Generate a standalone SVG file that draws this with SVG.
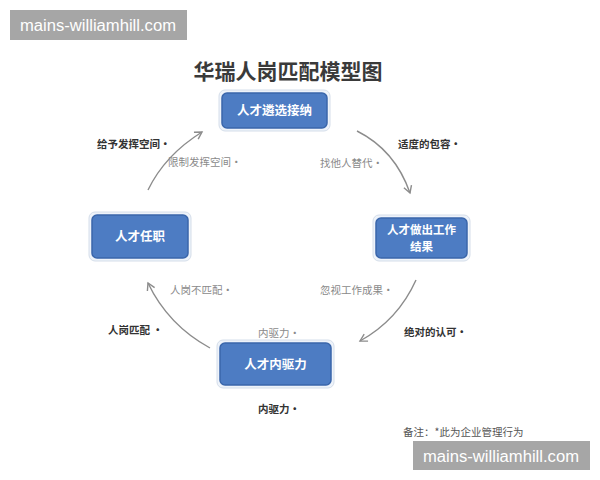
<svg xmlns="http://www.w3.org/2000/svg" width="600" height="480" viewBox="0 0 600 480">
<defs>
<style>
.node{fill:#4d7cc3;stroke:#3a66ab;stroke-width:1.5}
.halo{fill:#eef3fa;stroke:#d5deea;stroke-width:1}
.nt{font-family:"Noto Sans CJK SC",sans-serif;font-size:12.5px;fill:#ffffff;font-weight:bold;text-anchor:middle}
.lb{font-family:"Noto Sans CJK SC",sans-serif;font-size:10.5px;fill:#333333;font-weight:bold}
.lg{font-family:"Noto Sans CJK SC",sans-serif;font-size:10.5px;fill:#8a8a8a}
.wm{fill:#a6a6a6}
.wt{font-family:"Liberation Sans",sans-serif;font-size:16px;fill:#ffffff}
.arr{fill:none;stroke:#8c8c8c;stroke-width:1.4;marker-end:url(#ah)}
</style>
<marker id="ah" markerWidth="10" markerHeight="10" refX="8" refY="5" orient="auto" markerUnits="userSpaceOnUse">
<path d="M1,1 L8,5 L1,9" fill="none" stroke="#8c8c8c" stroke-width="1.4"/>
</marker>
</defs>
<rect width="600" height="480" fill="#ffffff"/>
<rect x="10" y="10" width="177" height="30" class="wm"/>
<text x="20" y="31" class="wt" textLength="156" lengthAdjust="spacingAndGlyphs">mains-williamhill.com</text>
<text x="288" y="79" font-family="Noto Sans CJK SC,sans-serif" font-size="21" font-weight="bold" fill="#3a3a3a" text-anchor="middle">华瑞人岗匹配模型图</text>
<g id="connectors">
<path class="arr" d="M148,190 Q165,155 202,132"/>
<path class="arr" d="M357,131 Q395,150 410,193"/>
<path class="arr" d="M416,280 Q398,320 360,341"/>
<path class="arr" d="M210,348 Q168,325 148,283"/>
</g>
<g id="n1">
<rect x="219" y="90" width="111" height="41" rx="6" class="halo"/>
<rect x="222" y="93" width="105" height="35" rx="5" class="node"/>
<text x="274.5" y="115" class="nt">人才遴选接纳</text>
</g>
<g id="n2">
<rect x="89" y="212" width="102" height="49" rx="6" class="halo"/>
<rect x="92" y="215" width="96" height="43" rx="5" class="node"/>
<text x="140" y="241" class="nt">人才任职</text>
</g>
<g id="n3">
<rect x="373" y="215" width="97" height="46" rx="6" class="halo"/>
<rect x="376" y="218" width="91" height="40" rx="5" class="node"/>
<text x="421.5" y="234" class="nt" style="font-size:11.5px">人才做出工作</text>
<text x="421.5" y="251" class="nt" style="font-size:11.5px">结果</text>
</g>
<g id="n4">
<rect x="217" y="340" width="117" height="48" rx="6" class="halo"/>
<rect x="220" y="343" width="111" height="42" rx="5" class="node"/>
<text x="275.5" y="368.5" class="nt">人才内驱力</text>
</g>
<g id="labels">
<text x="97" y="148" class="lb">给予发挥空间•</text>
<text x="168" y="166" class="lg">限制发挥空间•</text>
<text x="398" y="148" class="lb">适度的包容•</text>
<text x="320" y="167" class="lg">找他人替代•</text>
<text x="170" y="294" class="lg">人岗不匹配•</text>
<text x="108" y="334" class="lb">人岗匹配 •</text>
<text x="320" y="294" class="lg">忽视工作成果•</text>
<text x="404" y="336" class="lb">绝对的认可•</text>
<text x="258" y="337" class="lg">内驱力•</text>
<text x="258" y="413" class="lb">内驱力•</text>
<text x="403" y="436" class="lg" style="fill:#555555">备注：*此为企业管理行为</text>
</g>
<rect x="413" y="441" width="177" height="29" class="wm"/>
<text x="423" y="462" class="wt" textLength="156" lengthAdjust="spacingAndGlyphs">mains-williamhill.com</text>
</svg>
